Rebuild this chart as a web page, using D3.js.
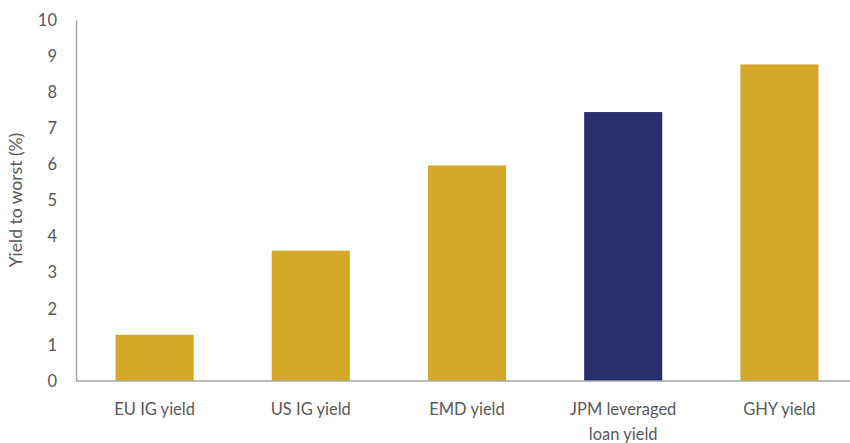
<!DOCTYPE html>
<html>
<head>
<meta charset="utf-8">
<script src="https://cdn.jsdelivr.net/npm/d3@7"></script>
<style>
  body { margin: 0; background: #fff; }
  svg text { font-family: Lato, "Open Sans", sans-serif; fill: #595959; }
</style>
</head>
<body>
<div id="chart"></div>
<script>
// data
const categories = ['EU IG yield', 'US IG yield', 'EMD yield', 'JPM leveraged loan yield', 'GHY yield'];
const values = [1.28, 3.61, 5.97, 7.45, 8.77];
const highlight = ['JPM leveraged loan yield'];
const yTicks = [0, 1, 2, 3, 4, 5, 6, 7, 8, 9, 10];

const width = 850;
const height = 443;

const svg = d3.select('#chart')
    .append('svg')
    .attr('width', width)
    .attr('height', height);

const x = d3.scaleBand()
    .domain(categories)
    .range([76.5, 857.5])
    .paddingInner(0.5)
    .paddingOuter(0.25);

const y = d3.scaleLinear()
    .domain([0, 10])
    .range([381, 20]);

// bars
svg.selectAll('rect.bar')
    .data(categories)
    .enter()
    .append('rect')
    .attr('class', 'bar')
    .attr('x', d => x(d))
    .attr('width', x.bandwidth())
    .attr('y', (d, i) => y(values[i]))
    .attr('height', (d, i) => y(0) - y(values[i]))
    .attr('fill', d => highlight.includes(d) ? '#2A2F6E' : '#D4A92A');

// y axis
const yAxis = svg.append('g')
    .attr('transform', 'translate(76,0)')
    .call(d3.axisLeft(y).tickValues(yTicks).tickSize(0).tickPadding(19).tickFormat(d3.format('d')));
yAxis.select('.domain').attr('stroke', '#A6A6A6').attr('stroke-width', 1.5);
yAxis.selectAll('text').attr('font-size', 16.5);

// x axis line
svg.append('line')
    .attr('x1', 76).attr('x2', width)
    .attr('y1', y(0)).attr('y2', y(0))
    .attr('stroke', '#A6A6A6').attr('stroke-width', 1.5);

// x labels, wrap the long one
const xLabels = {
    'JPM leveraged loan yield': ['JPM leveraged', 'loan yield']
};
svg.selectAll('text.xlab')
    .data(categories)
    .enter()
    .append('text')
    .attr('class', 'xlab')
    .attr('text-anchor', 'middle')
    .attr('font-size', 16.5)
    .each(function(d) {
        const lines = xLabels[d] || [d];
        const t = d3.select(this);
        lines.forEach((l, i) => {
            t.append('tspan')
                .attr('x', x(d) + x.bandwidth() / 2)
                .attr('y', 415 + i * 25)
                .text(l);
        });
    });

// y axis title
svg.append('text')
    .attr('transform', 'translate(22,200) rotate(-90)')
    .attr('text-anchor', 'middle')
    .attr('font-size', 17.5)
    .text('Yield to worst (%)');
</script>
</body>
</html>
